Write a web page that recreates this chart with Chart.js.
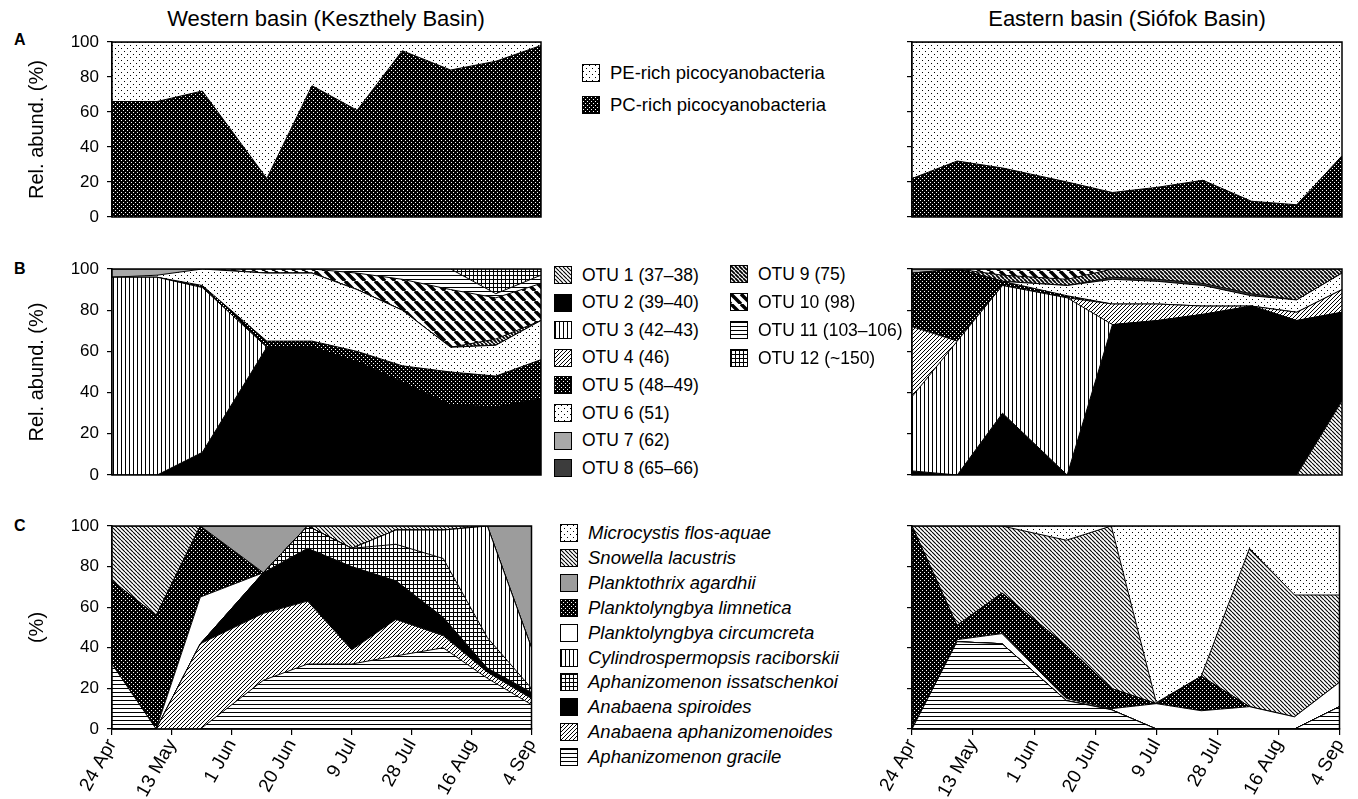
<!DOCTYPE html>
<html>
<head>
<meta charset="utf-8">
<script src="https://cdn.jsdelivr.net/npm/chart.js@4"></script>
<style>
  body { margin: 0; background: #fff; font-family: "Liberation Sans", Arial, sans-serif; color: #000; }
  #fig { position: relative; width: 1358px; height: 799px; overflow: hidden; }
  #fig canvas { position: absolute; }
  .title { position: absolute; font-size: 22px; line-height: 26px; white-space: nowrap; transform: translateX(-50%); }
  .letter { position: absolute; font-size: 16px; line-height: 16px; font-weight: bold; }
  .leg { position: absolute; display: flex; align-items: center; white-space: nowrap; font-size: 17.5px; height: 20px; }
  .leg .sw { width: 16px; height: 16px; border: 1.5px solid #000; margin-right: 10px; flex: none; }
  .leg.big { font-size: 18.5px; }
  .leg.it { font-style: italic; }
</style>
</head>
<body>
<div id="fig">
  <div class="title" style="left:326px;top:6px">Western basin (Keszthely Basin)</div>
  <div class="title" style="left:1127px;top:6px">Eastern basin (Siófok Basin)</div>
  <div class="letter" style="left:14px;top:32px">A</div>
  <div class="letter" style="left:14px;top:261px">B</div>
  <div class="letter" style="left:14px;top:518px">C</div>
</div>
<script>
// ── sampling dates (days after 24 Apr) and axis labels ──
const sampleDays = [0, 14, 28, 48, 62, 76, 90, 105, 119, 133];
const tickDays   = [0, 19, 38, 57, 76, 95, 114, 133];
const tickLabels = ['24 Apr', '13 May', '1 Jun', '20 Jun', '9 Jul', '28 Jul', '16 Aug', '4 Sep'];

// ── A: picocyanobacteria ──
const pcWest = [66, 66, 72, 22, 75, 61, 95, 84, 89, 98];
const peWest = [34, 34, 28, 78, 25, 39, 5, 16, 11, 2];
const pcEast = [22, 32, 28, 20, 14, 17, 21, 9, 7, 35];
const peEast = [78, 68, 72, 80, 86, 83, 79, 91, 93, 65];

// ── B: OTUs, western basin ──
const otu1W  = [0, 0, 0, 0, 0, 0, 0, 0, 0, 0];
const otu2W  = [0, 0, 11, 62, 62, 55, 45, 34, 33, 37];
const otu3W  = [96, 96, 80, 0, 0, 0, 0, 0, 0, 0];
const otu4W  = [0, 0, 0, 0, 0, 0, 0, 0, 0, 0];
const otu5W  = [0, 0, 1, 3, 3, 5, 8, 16, 15, 19];
const otu6W  = [0, 1, 8, 33, 33, 30, 27, 12, 15, 19];
const otu7W  = [4, 3, 0, 0, 0, 0, 0, 0, 0, 0];
const otu8W  = [0, 0, 0, 0, 0, 0, 0, 0, 0, 0];
const otu9W  = [0, 0, 0, 0, 0, 0, 0, 0, 3, 0];
const otu10W = [0, 0, 0, 2, 2, 8, 15, 28, 20, 18];
const otu11W = [0, 0, 0, 0, 0, 2, 5, 10, 2, 4];
const otu12W = [0, 0, 0, 0, 0, 0, 0, 0, 12, 3];

// ── B: OTUs, eastern basin ──
const otu1E  = [0, 0, 0, 0, 0, 0, 0, 0, 0, 36];
const otu2E  = [2, 0, 30, 0, 73, 75, 78, 82, 75, 43];
const otu3E  = [36, 65, 62, 86, 0, 0, 0, 0, 0, 0];
const otu4E  = [34, 0, 0, 0, 10, 8, 4, 0, 4, 11];
const otu5E  = [26, 35, 2, 1, 0, 0, 0, 0, 0, 0];
const otu6E  = [0, 0, 0, 5, 12, 11, 10, 5, 6, 8];
const otu7E  = [2, 0, 0, 0, 0, 0, 0, 0, 0, 0];
const otu8E  = [0, 0, 0, 0, 1, 1, 1, 1, 0, 0];
const otu9E  = [0, 0, 3, 3, 4, 5, 7, 12, 15, 2];
const otu10E = [0, 0, 3, 5, 0, 0, 0, 0, 0, 0];
const otu11E = [0, 0, 0, 0, 0, 0, 0, 0, 0, 0];
const otu12E = [0, 0, 0, 0, 0, 0, 0, 0, 0, 0];

// ── C: filamentous / colonial cyanobacteria, western basin ──
const gracileW     = [32, 0, 0, 24, 32, 32, 36, 40, 25, 12];
const aphanizW     = [0, 0, 42, 33, 31, 7, 18, 6, 3, 3];
const spiroidesW   = [0, 0, 0, 20, 26, 41, 19, 9, 2, 3];
const issatschW    = [0, 0, 0, 0, 11, 9, 18, 29, 15, 2];
const raciborW     = [0, 0, 0, 0, 0, 0, 7, 14, 55, 20];
const circumW      = [0, 0, 23, 0, 0, 0, 0, 0, 0, 0];
const limneticaW   = [41, 56, 35, 0, 0, 0, 0, 0, 0, 0];
const agardhiiW    = [0, 0, 0, 23, 0, 0, 0, 0, 0, 60];
const snowellaW    = [27, 44, 0, 0, 0, 11, 2, 2, 0, 0];
const microcystisW = [0, 0, 0, 0, 0, 0, 0, 0, 0, 0];

// ── C: eastern basin ──
const gracileE     = [0, 43, 42, 14, 9.5, 0, 0, 0, 0, 11];
const aphanizE     = [0, 0, 0, 0, 0, 0, 0, 0, 0, 0];
const spiroidesE   = [0, 0, 0, 0, 0, 0, 0, 0, 0, 0];
const issatschE    = [0, 0, 0, 0, 0, 0, 0, 0, 0, 0];
const raciborE     = [0, 0, 0, 0, 0, 0, 0, 0, 0, 0];
const circumE      = [0, 1, 5, 1, 0.5, 12.5, 9, 11, 6, 12];
const limneticaE   = [100, 7, 20, 26, 10, 0, 17, 0, 0, 0];
const agardhiiE    = [0, 0, 0, 0, 0, 0, 0, 0, 0, 0];
const snowellaE    = [0, 49, 33, 52, 80, 0.5, 0, 78, 60, 43];
const microcystisE = [0, 0, 0, 7, 0, 87, 74, 11, 34, 34];

const picoNames = ['PE-rich picocyanobacteria', 'PC-rich picocyanobacteria'];
const otuNames = ['OTU 1 (37–38)', 'OTU 2 (39–40)', 'OTU 3 (42–43)', 'OTU 4 (46)', 'OTU 5 (48–49)',
  'OTU 6 (51)', 'OTU 7 (62)', 'OTU 8 (65–66)', 'OTU 9 (75)', 'OTU 10 (98)', 'OTU 11 (103–106)', 'OTU 12 (~150)'];
// legend order (top to bottom); the stack runs the other way
const speciesNames = ['Microcystis flos-aquae', 'Snowella lacustris', 'Planktothrix agardhii',
  'Planktolyngbya limnetica', 'Planktolyngbya circumcreta', 'Cylindrospermopsis raciborskii',
  'Aphanizomenon issatschenkoi', 'Anabaena spiroides', 'Anabaena aphanizomenoides', 'Aphanizomenon gracile'];

// ───────────────────────────────────────────────
// fill patterns
// ───────────────────────────────────────────────
function tile(size, draw) {
  const c = document.createElement('canvas');
  c.width = c.height = size;
  const g = c.getContext('2d');
  g.fillStyle = '#fff'; g.fillRect(0, 0, size, size);
  draw(g, size);
  return c;
}
function hatch(size, lw, back) {
  return tile(size, (g, s) => {
    g.strokeStyle = '#000'; g.lineWidth = lw; g.beginPath();
    for (const k of [-1, 0, 1]) {
      if (back) { g.moveTo(k * s, 0); g.lineTo(k * s + s, s); }
      else { g.moveTo(k * s, s); g.lineTo(k * s + s, 0); }
    }
    g.stroke();
  });
}
function solid(col) { return tile(4, (g, s) => { g.fillStyle = col; g.fillRect(0, 0, s, s); }); }

const tiles = {
  lightDots: tile(6, g => { g.fillStyle = '#000'; g.fillRect(0, 0, 1, 1); g.fillRect(3, 3, 1, 1); }),
  darkDots: tile(4, (g, s) => { g.fillStyle = '#000'; g.fillRect(0, 0, s, s); g.fillStyle = '#fff'; g.fillRect(0, 0, 1, 1); g.fillRect(2, 2, 1, 1); }),
  vStripes: tile(4, g => { g.fillStyle = '#000'; g.fillRect(0, 0, 1, 4); }),
  hStripes: tile(4, g => { g.fillStyle = '#000'; g.fillRect(0, 0, 4, 1); }),
  grid: tile(4, g => { g.fillStyle = '#000'; g.fillRect(0, 0, 4, 1); g.fillRect(0, 0, 1, 4); }),
  back: hatch(4, 1.1, true),
  fwd: hatch(4, 1, false),
  backDense: hatch(4, 1.8, true),
  backBold: hatch(10, 3.5, true),
  black: solid('#000'),
  white: solid('#fff'),
  grey: solid('#9c9c9c'),
  lightGrey: solid('#a8a8a8'),
  darkGrey: solid('#3c3c3c')
};
const pctx = document.createElement('canvas').getContext('2d');
const pat = {};
for (const k in tiles) pat[k] = pctx.createPattern(tiles[k], 'repeat');

const otuFills = ['back', 'black', 'vStripes', 'fwd', 'darkDots', 'lightDots', 'lightGrey', 'darkGrey', 'backDense', 'backBold', 'hStripes', 'grid'];
const speciesFills = ['lightDots', 'back', 'grey', 'darkDots', 'white', 'vStripes', 'grid', 'black', 'fwd', 'hStripes'];

// ───────────────────────────────────────────────
// charts
// ───────────────────────────────────────────────
const frame = {
  id: 'frame',
  afterDatasetsDraw(chart) {
    const { ctx, chartArea: a } = chart;
    ctx.save();
    ctx.strokeStyle = '#000'; ctx.lineWidth = 1.5;
    ctx.strokeRect(a.left, a.top, a.right - a.left, a.bottom - a.top);
    ctx.restore();
  }
};

function layers(list) {
  return list.map(([vals, fill], i) => ({
    data: vals.map((v, j) => ({ x: sampleDays[j], y: v })),
    backgroundColor: pat[fill],
    borderColor: '#000',
    borderWidth: 1,
    fill: i === 0 ? 'origin' : '-1',
    pointRadius: 0,
    tension: 0
  }));
}

const fig = document.getElementById('fig');
const FONT = '"Liberation Sans", Arial, sans-serif';

// y tick labels overhang the plot by lineHeight/2 + padding = 10 + 8 = 18px
function panel(side, top, height, datasets, yTitle, withDates) {
  const left = side === 'W' ? 25 : 880;
  const width = side === 'W' ? 525 : 478;
  const c = document.createElement('canvas');
  c.width = width; c.height = height;
  c.style.left = left + 'px'; c.style.top = top + 'px';
  fig.appendChild(c);
  new Chart(c, {
    type: 'line',
    data: { datasets },
    plugins: [frame],
    options: {
      responsive: false,
      animation: false,
      events: [],
      layout: { padding: { top: 0, right: side === 'W' ? 9 : 16, bottom: 0, left: 0 } },
      plugins: { legend: { display: false }, tooltip: { enabled: false } },
      scales: {
        x: {
          type: 'linear', min: 0, max: 133,
          display: withDates,
          afterFit: s => { if (withDates) s.height = 70; },
          border: { display: true, color: '#000', width: 1.5 },
          grid: { drawOnChartArea: false, tickLength: 6, color: '#000', lineWidth: 1.2 },
          ticks: {
            stepSize: 19, autoSkip: false, minRotation: 61, maxRotation: 61, padding: 1,
            color: '#000', font: { family: FONT, size: 19, lineHeight: '20px' },
            callback: v => tickLabels[tickDays.indexOf(v)] ?? ''
          }
        },
        y: {
          stacked: true, min: 0, max: 100,
          afterFit: s => { s.width = side === 'W' ? 87 : 32; },
          border: { display: true, color: '#000', width: 1.5 },
          grid: { drawOnChartArea: false, tickLength: 5, color: '#000', lineWidth: 1.2 },
          ticks: {
            stepSize: 20, padding: 8, color: '#000', font: { family: FONT, size: 17, lineHeight: '20px' },
            callback: v => side === 'W' ? v : ''
          },
          title: { display: !!yTitle, text: yTitle, color: '#000', padding: 0, font: { family: FONT, size: 20 } }
        }
      }
    }
  });
}

// A  (plot 42..217)
panel('W', 24, 211, layers([[pcWest, 'darkDots'], [peWest, 'lightDots']]), 'Rel. abund. (%)', false);
panel('E', 24, 211, layers([[pcEast, 'darkDots'], [peEast, 'lightDots']]), '', false);

// B  (plot 269..475)
const otuW = [otu1W, otu2W, otu3W, otu4W, otu5W, otu6W, otu7W, otu8W, otu9W, otu10W, otu11W, otu12W];
const otuE = [otu1E, otu2E, otu3E, otu4E, otu5E, otu6E, otu7E, otu8E, otu9E, otu10E, otu11E, otu12E];
panel('W', 251, 242, layers(otuW.map((v, i) => [v, otuFills[i]])), 'Rel. abund. (%)', false);
panel('E', 251, 242, layers(otuE.map((v, i) => [v, otuFills[i]])), '', false);

// C  (plot 526..729; stacked bottom-up = legend reversed)
const spW = [microcystisW, snowellaW, agardhiiW, limneticaW, circumW, raciborW, issatschW, spiroidesW, aphanizW, gracileW];
const spE = [microcystisE, snowellaE, agardhiiE, limneticaE, circumE, raciborE, issatschE, spiroidesE, aphanizE, gracileE];
panel('W', 508, 291, layers(spW.map((v, i) => [v, speciesFills[i]]).reverse()), '(%)', true);
panel('E', 508, 291, layers(spE.map((v, i) => [v, speciesFills[i]]).reverse()), '', true);

// ───────────────────────────────────────────────
// legends
// ───────────────────────────────────────────────
function legendItem(x, yc, fill, text, cls) {
  const d = document.createElement('div');
  d.className = 'leg ' + (cls || '');
  d.style.left = x + 'px'; d.style.top = (yc - 10) + 'px';
  const sw = document.createElement('span');
  sw.className = 'sw';
  sw.style.background = `url(${tiles[fill].toDataURL()})`;
  d.appendChild(sw);
  d.appendChild(document.createTextNode(text));
  fig.appendChild(d);
}
legendItem(582, 73, 'lightDots', picoNames[0], 'big');
legendItem(582, 105, 'darkDots', picoNames[1], 'big');
otuNames.forEach((n, i) => {
  if (i < 8) legendItem(554, 275 + i * 27.6, otuFills[i], n);
  else legendItem(730, 274 + (i - 8) * 28, otuFills[i], n);
});
speciesNames.forEach((n, i) => legendItem(560, 533 + i * 24.9, speciesFills[i], n, 'big it'));
</script>
</body>
</html>
